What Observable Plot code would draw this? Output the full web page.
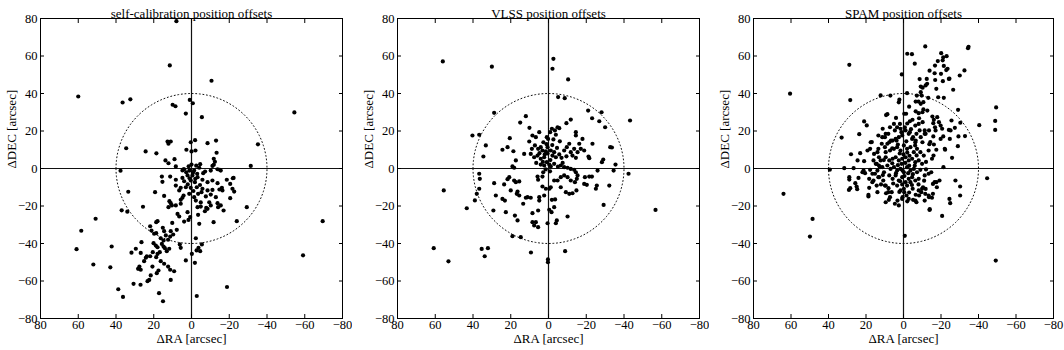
<!DOCTYPE html>
<html>
<head>
<meta charset="utf-8">
<script src="https://cdn.jsdelivr.net/npm/d3@7"></script>
<script src="https://cdn.jsdelivr.net/npm/@observablehq/plot@0.6"></script>
<style>
  html, body { margin: 0; padding: 0; background: #fff; }
  #wrap { position: relative; width: 1064px; height: 350px; background: #fff; overflow: hidden; }
  .panel { position: absolute; top: 0; height: 350px; overflow: visible; }
  .panel svg { display: block; overflow: visible; font-family: "Liberation Serif", "DejaVu Serif", serif !important; }
  .panel svg text { font-family: "Liberation Serif", "DejaVu Serif", serif !important; }
</style>
</head>
<body>
<div id="wrap">
  <div class="panel" id="p1" style="left:0px;width:346px"></div>
  <div class="panel" id="p2" style="left:352px;width:351px"></div>
  <div class="panel" id="p3" style="left:709px;width:355px"></div>
</div>
<script>
// ---- data: [ΔRA, ΔDEC] offsets in arcsec ----
const titles = ["self-calibration position offsets", "VLSS position offsets", "SPAM position offsets"];
const xTicks = [80, 60, 40, 20, 0, -20, -40, -60, -80];
const yTicks = [-80, -60, -40, -20, 0, 20, 40, 60, 80];
const circleRadius = 40;
const xLabel = "ΔRA [arcsec]";
const yLabel = "ΔDEC [arcsec]";

const selfcalOffsets = [
[8.0,78.6],[11.5,55],[-10.6,46.8],[60,38.4],[36.5,35.2],[32.4,36.9],[-54.5,29.9],[10,34],[8.5,33.2],[0.9,36.6],[-0.7,34.8],[3,29.3],[-5.5,27.4],[-35.2,12.9],[34.6,10.8],[24.3,9.1],[18.6,8.1],[-31.4,1.4],[37.6,-1.2],[33.5,-12.4],[37,-22.3],[34,-23],[25.7,-20.4],[-29.3,-20.6],[-24,-28.1],[50.8,-26.8],[58.4,-33.2],[60.9,-43],[42.3,-41.6],[52,-51.2],[43,-52.7],[-59.1,-46.3],[-69.5,-28.1],[-18.8,-63.2],[-2.8,-68],[38.8,-64.4],[36.3,-68.5],[17.2,-66.5],[15.1,-70.8],[30.7,-61.5],[27,-62],
[12.7,14.4],[11,14.4],[12.2,13.2],[0.4,14],[-1.9,15.1],[-8.5,13.5],[-13,14.9],[2.7,10],[0,9.1],[-2.1,9.6],[-13.3,8.4],[13.8,4.3],[12.2,2.8],[9,5],[8.3,1.1],[-12.4,3.6],[-11.8,2],[-11.1,1.4],[4.2,-0.4],[4.8,-1],[-4.6,2.3],[0,2.1],[3.9,-0.4],[1.1,-1.1],[-1.4,-1.1],[-4.1,0.4],[-6.2,-2.5],[-7.2,-1.6],[-10.2,-1.1],[-13.8,-0.4],[-15.5,-1.1],[2.1,-3.7],[-0.5,-3.7],[-3.2,-4.6],[4.8,-5],[15.7,-4.3],[11.3,-4.3],[15.4,-7.1],[8.3,-6],[3.9,-6.8],[0.4,-6.4],[-1.8,-7.3],[-5.8,-6],[-8.5,-7.3],[-11.1,-6.4],[-13.8,-7.8],[-18.7,-6],[-22.3,-5],[-20.5,-8.2],[-14.8,-11.2],[-21.7,-10.8],[-22.6,-12.3],[8.3,-9.1],[5.7,-10.3],[3,-10],[0.4,-10.3],[-2.8,-10],[-5.8,-10.8],[-8.5,-11.7],[-11.1,-11.4],[-16.1,-10.3],[-16.4,-11.7],[19.3,-12.6],[14.5,-14.6],[6.5,-11.7],[4.2,-14.4],[1.2,-13.5],[-1.4,-15.3],[-5.3,-12.6],[-7.6,-14.9],[-10.2,-13.9],[-12.9,-15.3],[-20.5,-15.8],[11.7,-17.4],[11,-18.5],[5.7,-16.7],[4.8,-15.6],[-2.3,-17.1],[-4.9,-18.1],[-9.4,-18],[-13.8,-18.5],[-15.5,-19.7],[8.3,-19.7],[5.7,-18.8],[-3.2,-20.6],[-4.9,-20.3],[-7.8,-21],[-10.2,-19.7],[-14.1,-20.6],
[1.5,1.2],[-2.5,1.5],[-0.8,-2.2],[2.8,-2],[-3,-2.8],[1,-5.2],[-2,-5.5],[-4.5,-8.8],[2,-8.5],[-1,-12],[-3.5,-13.5],[-11.8,5.2],[-15,-0.7],[-21.9,-5.2],[-17,-22.4],[-2.7,-43.7],
[12.2,-20.6],[10.4,-19.7],[7.4,-24.2],[6.5,-25.6],[2.1,-23.3],[0.7,-25.9],[3.9,-28.3],[1.6,-27.4],[-3.5,-24.7],[-4.1,-29.5],[-7.1,-22.8],[-11.7,-28.6],[-8.5,-21.5],
[21.9,-30.8],[18.7,-28.6],[18,-28.1],[21.2,-33.1],[19.8,-34.8],[18.7,-34.5],[15.2,-31.6],[14.5,-33.4],[10.2,-29],[11,-33.4],[9.7,-35.2],[11.3,-36.3],[13.6,-35.7],[14.8,-38.4],[16.3,-37.2],[7.8,-32.7],[12.4,-38],[26.5,-39.3],[20.1,-39.8],[18.9,-41.1],[18,-42],[15.7,-40.2],[14.8,-41.6],[14.1,-42.5],[11.8,-42.8],[13.1,-44.1],[20.5,-44.6],[21.9,-46.8],[18,-45.5],[16.8,-44.6],[18.7,-47.3],[23.7,-46.9],[24.2,-47.6],[29.5,-42.8],[31.8,-44.9],[26.9,-45],[6.2,-40.5],[5.7,-42.3],[3,-49],[-0.2,-45.5],[-2.3,-37.2],[-3.7,-42.3],[-4.6,-44.1],[-5.5,-40.5],[-1.8,-50.3],[25.1,-49.4],[16.3,-49.4],[14.5,-50.8],[12.4,-52.3],[11.3,-54],[9.2,-54.8],[28.3,-53.5],[26.9,-54],[27.6,-52.3],[20.7,-52.3],[17.5,-54.4],[18.4,-55.8],[21.6,-57],[22.4,-59.4],[23.3,-60.1],[11,-59.4]
];

const vlssOffsets = [
[56,57.1],[30,54.3],[-2.6,58.5],[-2.1,53.2],[-10.4,47.5],[-5.1,38.1],[-8.6,37.5],[-43.2,25.6],[55.5,-11.7],[43.3,-21.2],[-56.7,-22.1],[60.8,-42.5],[53,-49.5],[35.4,-42.9],[32.1,-42.5],[33.8,-46.8],[9.3,-44.8],[-8.8,-44.1],[0.3,-48.5],[0.3,-50],
[28.8,29.7],[12,27.9],[15,24.5],[-21,30.9],[-28.1,30],[-23.1,26.8],[-26.9,25.2],[-30,22],[40.3,17.6],[36.7,18],[33.2,12.3],[34.5,6.4],[24.4,10],[21.7,11.4],[20.5,16.2],[18.6,9.2],[12.9,7.8],[17.3,4.3],[10.1,21.7],[4.9,19.4],[8.5,17.6],[6.7,16.7],[10.2,14.4],[2.7,14],[0.9,16.7],[0.2,15.8],[-0.9,19.4],[-1.8,21.2],[-4.8,22],[-5.7,21.5],[-3.4,20.3],[-3.9,18],[-9.5,24.2],[-11.8,26.1],[-14.5,19.4],[-14.5,17.6],[-18,15.8],[-23.3,13.2],[-21.2,6.4],[-21.6,5.5],[-29,4.8],[-28.3,3.4],[-32.7,11.4],[-33.6,11.2],[-35.5,2.1],[-34.5,-1.1],[-42.4,-2.8],[-26,-1.1],
[7.2,12.3],[5.5,10.5],[4.1,11.4],[3.2,9.6],[1.4,9.1],[9.4,7.8],[7.6,6],[5.8,6.9],[4.1,5.2],[2.3,6],[0.5,11.4],[-1.2,9.6],[-3,8.7],[-2.1,6.9],[-3.9,6],[-5.7,7.5],[-6.9,5.7],[-8.3,9.6],[-9.7,11.4],[-11,13.2],[-11.8,8.7],[-13.6,10.5],[-12.7,6.9],[-14.5,5.7],[-15.4,8.7],[-16.3,13.2],[-17.1,10.5],[-18.9,9.6],[0.9,3.4],[-0.4,2.1],[-1.2,1.1],[-3,2.5],[2.3,1.6],[4.1,2.1],
[-6.5,1.6],[-8.3,0.7],[-10.1,0.4],[-11.8,-0.2],[-13.6,-0.7],[-14.5,-2],[-15.4,-3.7],[-15,-5.5],[-14,-7.3],[-11.8,-6.4],[-8.3,-3.7],[-10.1,-4.6],[-6.5,-4.6],[-9.2,-12.6],[-11,-13.5],[-12.7,-13.2],[-14.8,-11.7],[-4.8,-6.4],[-3,-6.4],[-6.5,-10],[-19.3,-4.6],[-21.6,-4.3],[-23,-4.3],[-18.9,-8.2],[-20.3,-8.7],[-25.6,-9.1],[-25.1,-10.8],[-32.2,-9.1],[-29.2,-19.4],[36.7,-2.8],[36.4,-5.5],[36.7,-10.8],[38,-13.5],[39,-17],[28.8,-7.8],[27.9,-14.4],[29.2,-22.4],[23.5,-8.5],[24.4,-16.2],[23.1,-17.1],[21.7,-5.7],[20.8,-4.6],[19.1,1.1],[18.2,0.4],[18.2,-6.4],[17.3,-7.3],[15.5,-6.9],[16.8,-13.5],[15.5,-14.4],[16.4,-12.3],[20,-11.7],[13.4,-18.8],[12,-15.6],[11.1,-15.3],[9.4,-15.6],[17.8,-25.1],[16.4,-27.7],[8.5,-23.8],[8.5,-28.6],[7.6,-30.4],[6.7,-28.6],[5.5,-22.4],[4.9,-17.1],[4.9,-15.3],[3.2,-4.3],[5.8,-4.3],[5.5,-6],[3.2,-9.6],[2.3,-14.4],[1.4,-10.8],[-0.5,-10.8],[-1.2,-10],[-1.8,-16.7],[-3.5,-16.5],[0.5,-29.2],[-4.4,-27.7],[-3.9,-29.2],[-3,-20.6],[-0.4,-22],[-1.6,-23.3],[-10.1,-25.6],[5.5,-31.3],[19.1,-36.1],[14.7,-36.6],[22.6,-23.3],
[2,7.5],[-1,4.5],[0.5,8],[-2,12.5],[3,3.5],[1.5,-0.5],[-0.8,-1.5],[6.5,3],[8.8,10.5],[-4.5,11],[-6,14.5],[-7.5,3],[-9.5,6.5],[1,13],[4.8,8.2],[-2.6,15.5],[-5,1],[2.8,-2]
];

const spamOffsets = [
[64,-13.5],[48.5,-26.9],[49.9,-36.3],[60.5,39.9],[28.9,55.3],[28.4,36.5],[-0.7,-35.9],[-49.2,-49.1],[-48.9,25.4],[-48.9,20.6],[-49.4,32.6],[-40.4,23.1],[-44.6,-5.2],[-32.8,17.3],[-34.4,64.2],[-34.7,64.9],[-32.5,52.3],[-11.6,65.1],[-2,61.2],[-4.5,61],[-6,55.9],[0.9,50.2],[2.2,36.7],[2.5,35.3],[-1.9,40.2],[9.3,28.5],[8.6,29],[12.2,39],
[-20.1,61.5],[-21.2,59.3],[-20.9,57.7],[-23,59.9],[-18.3,57.3],[-21.5,54.7],[-23.5,53.2],[-22.8,52.5],[-24.5,47.9],[-21,46.6],[-16.9,47.2],[-13.9,52.2],[-16.8,54.9],[-16.6,50.8],[-11.8,44.3],[-8.6,47.7],[-10.2,43.1],[-12.6,45.2],[-12.4,47.8],[-20,50.5],[-24.2,47.8],[-30,49.6],[-17.5,42.5],[-26.5,42],[-9.2,43.7],[-9.2,40.7],[-9.7,38.9],[-7.1,38.9],[-6.5,35.7],[-8,35.7],[-9.2,34.5],[-10.6,35.4],[-13.2,37.7],[-18.5,38],[-21.5,37.7],[7,38.9],[-0.4,29.2],[-10.1,30],[-10.6,31.5],[-12.7,30.9],[-8.3,26.8],[-4.8,26],[-3.4,25.2],[-15.4,27.7],[-16.2,26],[-18,27.4],[-15.9,24.2],[-16.8,22],[-18.9,24.7],[-19.8,22.9],[-20.6,21.2],[-25.6,25.6],[-29.1,31.3],[-27.4,21.7],[-25.1,20.3],[-30.3,24.4],[-29.3,17.1],[-29,11.9],[-24.2,20.6],[-24.7,15.8],[-21.2,17.1],[-19.8,15.8],[-13.6,20.3],[-11.8,18.5],[-9.2,16.7],[-10.1,14],[-6.5,14.9],[-6.2,12.3],[-15.9,17.1],[-17.1,20.3],
[-25.9,5.7],[-27.7,-6.4],[-30.2,-9.6],[-30.2,-14.4],[-24.5,-16.2],[-24.9,-18.5],[-20.6,-25.3],[-13.9,-22.1],[-21.3,0.7],[-22,10.5],[-22.2,10],[-14.3,14.1],[-16.2,12.8],[-17.5,10],
[39.3,-0.6],[33,16.5],[28,7.6],[31.6,0.2],[28.9,-4.6],[28.9,-5.9],[28.4,-10.5],[29.1,-11.4],[23.6,18.3],[21,25.1],[19.6,23],[23.1,8.2],[18.3,-10.3],[18.7,-14.1],[13.9,-12.6],[9.3,-13.2],[16.9,14.1],[17.8,10.5],[21.3,-1.1],[25.7,-7.8],[25,-9.6],[24.7,-11],[16,4.3],[14.3,2.5],[12.5,0.7],[15.2,-2.8],[13.4,-4.6],[16,-6.4],[14.3,-9.1],[10.8,-6.4],[9.9,-9.1],[8.1,-12.6],[7.2,-15.3],[6.3,-12.6],[3.2,-17.1],[0.5,-15.3],[-0.4,-12.6],[-1.6,-14.4],[-5.1,-16.7],[-6.9,-18],[-8.3,-14.4],[-9.5,-12.6],[-10.4,-10],[-11.8,-10.9],[-15.7,-8.2],[-17.5,-7.3],[-19.2,-6.4],[-13.6,-15.3],[-15.7,-13.5],[-11.3,-17.1],[11.1,21.2],[9.9,16.7],[13.4,17.6],[7.2,22],[4.6,20.3],[3.7,14.9],[1.9,23.8],[1.1,19.4],[-0.7,22],[-3.4,19.4],[-5.1,16.7],[-6.9,18.5],[-8.6,20.3],[-11.3,18.5],[8.1,18.5],[6.7,14.9],
[17.5,14],[21,3.9],[19.2,9.6],[26.6,0.2],[21.9,-2],[20.5,-2.5],[17.8,-0.7],[16.6,-2.8],[24,-5],[18.3,-5.5],[16.6,-7.3],[13.9,-1.1],[13,-4.6],[18.7,-14.9],[9.5,-9.1],[1.6,-11.7],[-0.2,-10.8],[0.7,-16.2],[-2.8,-16.2],[-6.3,-17.1],[-4.9,-10.8],[-8.1,-11.7],[-9.9,-10.8],[-11.6,-13.5],[-13.4,-14.4],[-15.2,-15.6],[-17.8,-10],[-16.6,-7.3],[-14,-21.7],[-11.3,-3.7],[-13.4,-2.8],[-14.8,-2],[-15.2,5.2],[-16,6.9],[-13.4,9.6],[-11.3,20.3],[-1.4,29.2],[-8.1,29.5],[-6.3,22.9],[-8.1,23.8],[-10.2,24.7],[5.1,23.8],[3.4,22],[1.6,21.2],[11.3,16.7],[9.5,18.5],[11.6,13.2],[9.9,11.4],[7.6,14],[5.8,14.9],[4.2,15.8],[2.5,16.7],[0.7,17.6],[-1.1,20.3],[-2.8,18.5],[-4.6,15.8],[-6.3,14],[7.2,9.6],[5.1,10.5],[3.4,11.4],[1.6,9.6],[-0.2,12.3],[-1.9,10.5],[-3.7,11.4],[-5.5,8.7],[-7.2,10.5],[-9,8.7],[-10.8,6.9],
[9.5,6],[7.6,4.3],[5.8,5.2],[4.2,6],[2.5,4.3],[0.7,5.2],[-1.1,6],[-2.8,4.3],[-4.6,5.2],[-6.3,3.4],[-8.1,4.3],[-9.9,2.5],
[8.6,1.6],[6.9,-0.2],[5.1,0.7],[3.4,-1.1],[1.6,-0.2],[-0.2,-2],[-1.9,0.7],[-3.7,-1.1],[-5.5,-0.2],[-7.2,-2],[-9,-0.7],
[7.6,-3.7],[5.8,-5.5],[4.2,-3.7],[2.5,-6.4],[0.7,-4.6],[-1.1,-7.3],[-2.8,-5.5],[-4.6,-4.6],[-6.3,-6.4],[-8.1,-5.5],
[3.4,-9.1],[0.7,-8.5],[-1.9,-9.1],[-3.7,-7.3],
[15.7,7.8],[13.9,8.7],[13.1,6],[12.2,4.3],[14.8,2.5],[9.5,8.7],[8.6,13.2],[13.4,10.5],[11.3,0.7],[10.4,-2],[13.1,1.6],[7.8,-16.7],[9.5,-18],[4.6,-18.8],[2.5,-19.7],[24.5,4.3],
[1,2.5],[-1,3],[3,1.8],[-3,1.5],[0,7.5],[2,8],[-2,8.5],[4,-2.5],[-0.5,-4],[-2.5,-2.5],[1.8,-6.8],[6,2.8],[-6,1.5],[-4.5,-8.8],[3,12.8],[-1.5,14.5],[0.5,-1],[-3.2,6.8],[5.5,-8],[-7,7],[-5,-3],[11,-3.5],[12,-8.5],[8,-10.5],[2.2,-12.5],[-3,-12.8],[-6.5,-14],[-2,-17.5],[-8,-8.5],[-11,-6.5],[-12,-0.5],[-12,3.5],[-13.8,13],[-4,21],[-2,24],[4,27],[-6.5,30.5],[-3,33],[6,10.8],[10.5,4.5]
];

// reference circle of radius circleRadius (geometry, not data)
const circlePts = d3.range(0, 361, 2).map(a => [circleRadius * Math.cos(a * Math.PI / 180), circleRadius * Math.sin(a * Math.PI / 180)]);

const font = "Liberation Serif, DejaVu Serif, serif";

function panel(data, title, width, marginLeft, marginRight) {
  return Plot.plot({
    width, height: 350,
    marginTop: 18, marginBottom: 32, marginLeft, marginRight,
    style: {fontFamily: font, fontSize: "12.5px", background: "white", color: "black", overflow: "visible"},
    x: {domain: [80, -80], label: null},
    y: {domain: [-80, 80], label: null},
    marks: [
      Plot.line(circlePts, {x: d => d[0], y: d => d[1], stroke: "#111", strokeWidth: 1, strokeDasharray: "1,2.6"}),
      Plot.ruleX([0], {stroke: "#111", strokeWidth: 1.2}),
      Plot.ruleY([0], {stroke: "#111", strokeWidth: 1.2}),
      Plot.dot(data, {x: d => d[0], y: d => d[1], r: 2.1, fill: "black", stroke: "none"}),
      Plot.frame({stroke: "black", strokeWidth: 1}),
      Plot.axisX({ticks: xTicks, anchor: "bottom", tickSize: 0, tickPadding: 2, label: null, fontSize: 12.5}),
      Plot.axisX({ticks: xTicks, anchor: "bottom", tickSize: -4, fill: "none", label: null}),
      Plot.axisX({ticks: xTicks, anchor: "top", tickSize: -4, fill: "none", label: null}),
      Plot.axisY({ticks: yTicks, anchor: "left", tickSize: 0, tickPadding: 3, label: null, fontSize: 12.5}),
      Plot.axisY({ticks: yTicks, anchor: "left", tickSize: -4, fill: "none", label: null}),
      Plot.axisY({ticks: yTicks, anchor: "right", tickSize: -4, fill: "none", label: null}),
      Plot.text([title], {text: d => d, frameAnchor: "top", dy: -10, fontSize: 13}),
      Plot.text([xLabel], {text: d => d, frameAnchor: "bottom", dy: 24, fontSize: 13}),
      Plot.text([yLabel], {text: d => d, frameAnchor: "left", dx: -29, rotate: -90, fontSize: 13})
    ]
  });
}

document.getElementById("p1").appendChild(panel(selfcalOffsets, titles[0], 346, 40, 4));
document.getElementById("p2").appendChild(panel(vlssOffsets, titles[1], 351, 45, 4));
document.getElementById("p3").appendChild(panel(spamOffsets, titles[2], 355, 44, 11));
</script>
</body>
</html>
